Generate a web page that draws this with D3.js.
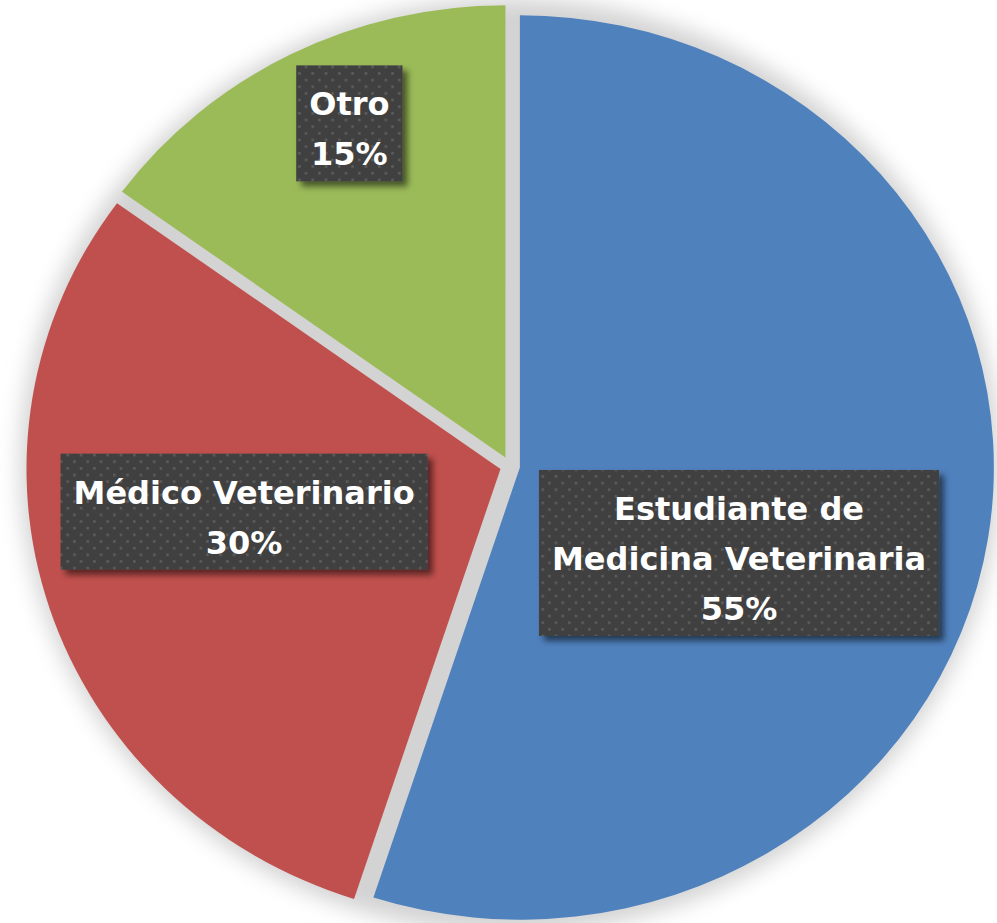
<!DOCTYPE html>
<html>
<head>
<meta charset="utf-8">
<script src="https://cdn.jsdelivr.net/npm/d3@7"></script>
<style>
  html, body { margin: 0; padding: 0; background: #fff; }
  svg { display: block; }
</style>
</head>
<body>
<div id="chart"></div>
<script>
// chart data
const categories = ['Estudiante de Medicina Veterinaria', 'Médico Veterinario', 'Otro'];
const labelLines = [['Estudiante de', 'Medicina Veterinaria'], ['Médico Veterinario'], ['Otro']];
const values = [55, 30, 15];
const colors = ['#4f81bd', '#c0504d', '#9bbb59'];

// where excel put each label: angle nudge (deg) from the slice middle, and radius fraction
const labelShift = [12.7, 7.8, 2.9];
const labelRadius = [0.52, 0.57, 0.83];

const width = 997;
const height = 923;
const cx = 510, cy = 466;
const radius = 474;
const squash = 0.954; // the picture is a bit wider than tall
const explode = 10;

const svg = d3.select('#chart').append('svg')
    .attr('width', width)
    .attr('height', height);

const defs = svg.append('defs');

// soft grey glow behind the pie
defs.append('filter')
    .attr('id', 'glow')
    .attr('x', '-20%').attr('y', '-20%').attr('width', '140%').attr('height', '140%')
    .append('feGaussianBlur')
    .attr('stdDeviation', 11);

// label box shadow
const shadow = defs.append('filter')
    .attr('id', 'boxshadow')
    .attr('x', '-10%').attr('y', '-10%').attr('width', '130%').attr('height', '130%');
shadow.append('feDropShadow')
    .attr('dx', 5).attr('dy', 5)
    .attr('stdDeviation', 3)
    .attr('flood-color', '#000')
    .attr('flood-opacity', 0.55);

// dotted fill of the label boxes (staggered grid)
const step = 13.3;
const pat = defs.append('pattern')
    .attr('id', 'dots')
    .attr('patternUnits', 'userSpaceOnUse')
    .attr('width', step).attr('height', step);
pat.append('rect').attr('width', step).attr('height', step).attr('fill', '#404040');
pat.append('rect').attr('x', 2).attr('y', 2).attr('width', 2.5).attr('height', 2.5).attr('fill', '#5e5e5e');
pat.append('rect').attr('x', 2 + step / 2).attr('y', 2 + step / 2).attr('width', 2.5).attr('height', 2.5).attr('fill', '#5e5e5e');

const g = svg.append('g')
    .attr('transform', `translate(${cx}, ${cy}) scale(1, ${squash})`);

g.append('circle')
    .attr('r', radius + 16)
    .attr('fill', '#d3d3d3')
    .attr('filter', 'url(#glow)');

const pie = d3.pie()
    .sort(null)
    .value(d => d);

const path = d3.arc()
    .outerRadius(radius)
    .innerRadius(0);

const arcs = pie(values);

g.selectAll('.slice')
    .data(arcs)
    .enter().append('path')
    .attr('class', 'slice')
    .attr('fill', (d, i) => colors[i])
    .attr('transform', d => {
        const a = (d.startAngle + d.endAngle) / 2;
        return `translate(${explode * Math.sin(a)}, ${-explode * Math.cos(a)})`;
    })
    .attr('d', path);

// data labels
const lineH = 50;
const labels = svg.selectAll('.label')
    .data(arcs)
    .enter().append('g')
    .attr('class', 'label')
    .attr('transform', (d, i) => {
        const a = (d.startAngle + d.endAngle) / 2 + labelShift[i] * Math.PI / 180;
        const r = radius * labelRadius[i];
        return `translate(${cx + r * Math.sin(a)}, ${cy - r * Math.cos(a) * squash})`;
    });

labels.each(function(d, i) {
    const lab = d3.select(this);
    const lines = labelLines[i].concat([d.data + '%']);
    const n = lines.length;
    const boxH = lineH * (n - 1) + 66;
    const box = lab.append('rect')
        .attr('fill', 'url(#dots)')
        .attr('filter', 'url(#boxshadow)');
    const text = lab.append('text')
        .attr('text-anchor', 'middle')
        .attr('fill', '#fff')
        .style('font-family', '"DejaVu Sans", sans-serif')
        .style('font-weight', 'bold')
        .style('font-size', '32px');
    lines.forEach((t, k) => {
        text.append('tspan')
            .attr('x', 0)
            .attr('y', -boxH / 2 + 50 + k * lineH)
            .text(t);
    });
    const w = text.node().getBBox().width + 26;
    box.attr('x', -w / 2).attr('y', -boxH / 2)
        .attr('width', w).attr('height', boxH);
});
</script>
</body>
</html>
